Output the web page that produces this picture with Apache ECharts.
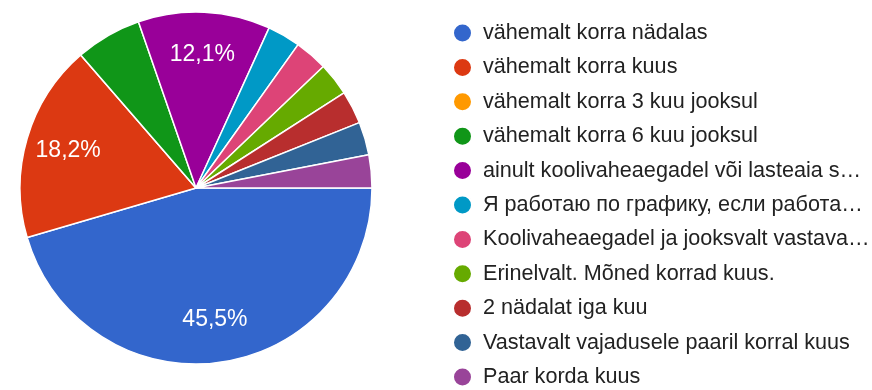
<!DOCTYPE html>
<html>
<head>
<meta charset="utf-8">
<script src="https://cdn.jsdelivr.net/npm/echarts@6/dist/echarts.min.js"></script>
<style>
  html, body { margin: 0; padding: 0; background: #fff; }
  #chart { width: 872px; height: 390px; }
</style>
</head>
<body>
<div id="chart"></div>
<script>
// Answer options (as shown in the legend, long ones already shortened)
const categories = [
  'vähemalt korra nädalas',
  'vähemalt korra kuus',
  'vähemalt korra 3 kuu jooksul',
  'vähemalt korra 6 kuu jooksul',
  'ainult koolivaheaegadel või lasteaia s…',
  'Я работаю по графику, если работа…',
  'Koolivaheaegadel ja jooksvalt vastava…',
  'Erinelvalt. Mõned korrad kuus.',
  '2 nädalat iga kuu',
  'Vastavalt vajadusele paaril korral kuus',
  'Paar korda kuus'
];
// Number of responses per option
const counts = [15, 6, 0, 2, 4, 1, 1, 1, 1, 1, 1];
const palette = ['#3366cc', '#dc3912', '#ff9900', '#109618', '#990099', '#0099c6',
                 '#dd4477', '#66aa00', '#b82e2e', '#316395', '#994499'];

const total = counts.reduce((a, b) => a + b, 0);
const pieData = categories.map((name, i) => ({ name, value: counts[i] }));

const FONT = '"Liberation Sans", Arial, sans-serif';
const center = [196, 188];
const R = 176;

function pctLabel(p) {
  const pct = p.value / total * 100;
  return pct >= 10 ? pct.toFixed(1).replace('.', ',') + '%' : '';
}

const chart = echarts.init(document.getElementById('chart'), null, { renderer: 'canvas' });
chart.setOption({
  animation: false,
  color: palette,
  legend: {
    orient: 'vertical',
    left: 452,
    top: 22,
    padding: 0,
    itemWidth: 19,
    itemHeight: 19,
    itemGap: 12.4,
    icon: 'circle',
    selectedMode: false,
    data: categories,
    textStyle: {
      fontFamily: FONT,
      fontSize: 21.6,
      color: '#222',
      padding: [0, 0, 0, 6]
    }
  },
  series: [
    {
      type: 'pie',
      center: center,
      radius: [0, R],
      startAngle: 0,
      clockwise: true,
      silent: true,
      data: pieData,
      itemStyle: { borderColor: '#fff', borderWidth: 1.5 },
      label: { show: false },
      labelLine: { show: false }
    },
    {
      // label ring: places percentages at about three quarters of the radius
      type: 'pie',
      center: center,
      radius: [R * 0.48, R],
      startAngle: 0,
      clockwise: true,
      silent: true,
      legendHoverLink: false,
      data: pieData,
      itemStyle: { color: 'rgba(0,0,0,0)', borderWidth: 0 },
      label: {
        show: true,
        position: 'inside',
        formatter: pctLabel,
        color: '#fff',
        fontFamily: FONT,
        fontSize: 23
      },
      labelLine: { show: false }
    }
  ]
});
</script>
</body>
</html>
